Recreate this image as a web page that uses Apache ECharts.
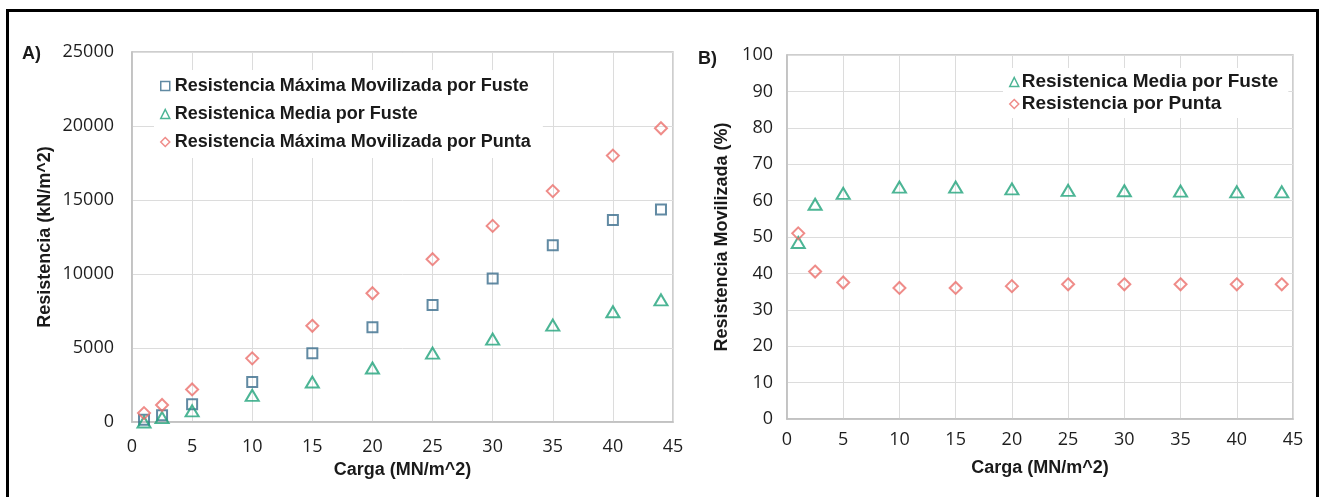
<!DOCTYPE html>
<html>
<head>
<meta charset="utf-8">
<script src="https://cdn.jsdelivr.net/npm/echarts@6/dist/echarts.min.js"></script>
<style>
  html, body { margin: 0; padding: 0; background: #fff; }
  #chart { width: 1322px; height: 497px; }
</style>
</head>
<body>
<div id="chart"></div>
<script>
// Applied load (MN/m^2)
const carga = [1, 2.5, 5, 10, 15, 20, 25, 30, 35, 40, 44];

// Panel A: resistances (kN/m^2)
const fusteMaxima = [150, 450, 1200, 2700, 4650, 6400, 7900, 9700, 11950, 13650, 14350];
const fusteMedia = [0, 300, 750, 1800, 2700, 3650, 4650, 5600, 6550, 7450, 8250];
const puntaMaxima = [600, 1150, 2200, 4300, 6500, 8700, 11000, 13250, 15600, 18000, 19850];

// Panel B: mobilised resistance (%)
const fusteMediaPct = [48.5, 59, 62, 63.7, 63.7, 63.2, 62.8, 62.7, 62.6, 62.4, 62.4];
const puntaPct = [51, 40.5, 37.5, 36, 36, 36.5, 37, 37, 37, 37, 37];

const nameFusteMax = 'Resistencia Máxima Movilizada por Fuste';
const nameFusteMedia = 'Resistenica Media por Fuste';
const namePuntaMax = 'Resistencia Máxima Movilizada por Punta';
const namePunta = 'Resistencia por Punta';

const BLUE = '#3a6d8c';
const GREEN = '#1fa27a';
const RED = '#eb6f6b';

const TICK_FONT = { fontFamily: 'Open Sans', fontSize: 18, color: '#1e1e1e' };
const TITLE_FONT = { fontFamily: 'Liberation Sans', fontWeight: 'bold', fontSize: 18, color: '#1a1a1a' };
const LEGEND_FONT = { fontFamily: 'Liberation Sans', fontWeight: 'bold', color: '#1a1a1a' };

const pairs = (ys) => carga.map((x, i) => [x, ys[i]]);

function valueAxis(gridIndex, extra) {
  return Object.assign({
    type: 'value',
    gridIndex,
    axisLine: { show: true, lineStyle: { color: '#bfbfbf', width: 1.5 } },
    axisTick: { show: false },
    splitLine: { show: true, lineStyle: { color: '#dcdcdc', width: 1 } },
    nameLocation: 'middle',
    nameTextStyle: Object.assign({}, TITLE_FONT)
  }, extra);
}

function tickLabels(margin) {
  return Object.assign({ margin, formatter: (v) => String(v) }, TICK_FONT);
}

function scatter(name, ys, xi, yi, symbol, size, color) {
  return {
    type: 'scatter',
    name,
    xAxisIndex: xi,
    yAxisIndex: yi,
    symbol,
    symbolSize: size,
    data: pairs(ys),
    itemStyle: { color: 'rgba(0,0,0,0)', borderColor: color, borderWidth: 2 },
    emphasis: { disabled: true }
  };
}

const chart = echarts.init(document.getElementById('chart'), null, { renderer: 'canvas' });

chart.setOption({
  animation: false,
  backgroundColor: '#fff',
  title: [
    { text: 'A)', left: 17, top: 40, textStyle: { fontFamily: 'Liberation Sans', fontWeight: 'bold', fontSize: 18, color: '#1a1a1a' } },
    { text: 'B)', left: 693, top: 45, textStyle: { fontFamily: 'Liberation Sans', fontWeight: 'bold', fontSize: 18, color: '#1a1a1a' } }
  ],
  grid: [
    { left: 132, top: 52, right: 1322 - 673, bottom: 497 - 422, show: true, borderColor: '#bfbfbf', borderWidth: 1.5, backgroundColor: 'transparent' },
    { left: 787, top: 55, right: 1322 - 1293, bottom: 497 - 419, show: true, borderColor: '#bfbfbf', borderWidth: 1.5, backgroundColor: 'transparent' }
  ],
  xAxis: [
    valueAxis(0, { min: 0, max: 45, interval: 5, name: 'Carga (MN/m^2)', nameGap: 38, axisLabel: tickLabels(16) }),
    valueAxis(1, { min: 0, max: 45, interval: 5, name: 'Carga (MN/m^2)', nameGap: 40, axisLabel: tickLabels(12) })
  ],
  yAxis: [
    valueAxis(0, { min: 0, max: 25000, interval: 5000, name: 'Resistencia (kN/m^2)', nameGap: 78, axisLabel: tickLabels(18) }),
    valueAxis(1, { min: 0, max: 100, interval: 10, name: 'Resistencia Movilizada (%)', nameGap: 56, axisLabel: tickLabels(14) })
  ],
  legend: [
    {
      data: [nameFusteMax, nameFusteMedia, namePuntaMax],
      orient: 'vertical',
      left: 154, top: 70,
      padding: [6, 12, 6, 6],
      itemGap: 8,
      itemWidth: 9, itemHeight: 9,
      backgroundColor: '#fff',
      selectedMode: false,
      itemStyle: { borderWidth: 1.5 },
      textStyle: Object.assign({ fontSize: 18, lineHeight: 20, padding: [0, 0, 0, 0] }, LEGEND_FONT)
    },
    {
      data: [nameFusteMedia, namePunta],
      orient: 'vertical',
      left: 1003, top: 68,
      padding: [4, 10, 4, 6],
      itemGap: 2,
      itemWidth: 9, itemHeight: 9,
      backgroundColor: '#fff',
      selectedMode: false,
      itemStyle: { borderWidth: 1.5 },
      textStyle: Object.assign({ fontSize: 19, lineHeight: 20, padding: [0, 0, 0, -2] }, LEGEND_FONT)
    }
  ],
  series: [
    scatter(nameFusteMax, fusteMaxima, 0, 0, 'rect', 10, BLUE),
    scatter(nameFusteMedia, fusteMedia, 0, 0, 'triangle', [13, 11], GREEN),
    scatter(namePuntaMax, puntaMaxima, 0, 0, 'diamond', [12, 12], RED),
    scatter(nameFusteMedia, fusteMediaPct, 1, 1, 'triangle', [13, 11], GREEN),
    scatter(namePunta, puntaPct, 1, 1, 'diamond', [12, 12], RED)
  ],
  graphic: [
    {
      type: 'rect',
      shape: { x: 7.5, y: 10.5, width: 1310, height: 520 },
      style: { fill: 'none', stroke: '#000', lineWidth: 3 },
      silent: true,
      z: 100
    }
  ]
});
</script>
</body>
</html>
